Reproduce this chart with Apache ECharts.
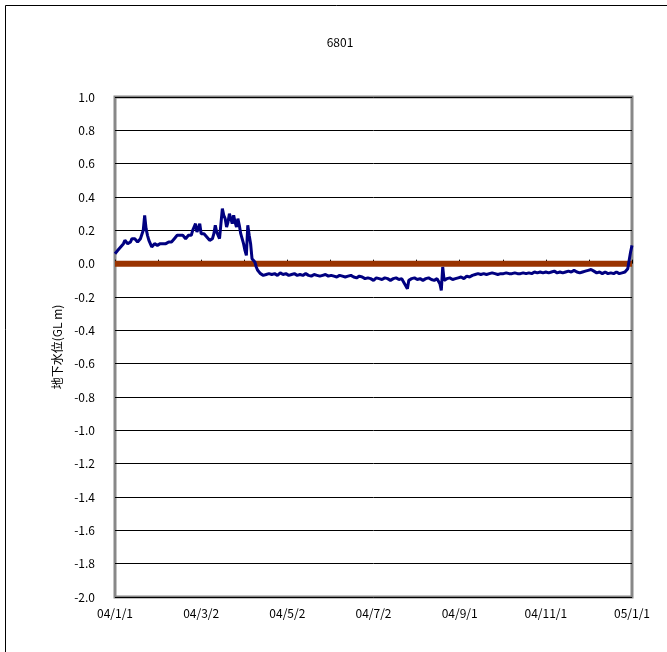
<!DOCTYPE html>
<html>
<head>
<meta charset="utf-8">
<script src="https://cdn.jsdelivr.net/npm/echarts@6/dist/echarts.min.js"></script>
<style>
html,body{margin:0;padding:0;background:#fff;}
#chart{width:667px;height:652px;}
</style>
</head>
<body>
<div id="chart"></div>
<script>
// Chart title and axis name
const chartTitle = '6801';
const yAxisName = '地下水位(GL m)';

// X tick labels (every 61 days from 2004-01-01)
const xTickLabels = ['04/1/1', '04/3/2', '04/5/2', '04/7/2', '04/9/1', '04/11/1', '05/1/1'];

// Day offsets from 2004-01-01
const days = [
  0,1,2,3,4,5,6,7,8,9,10,11,12,13,14,15,16,17,18,19,20,21,22,23,24,25,26,27,28,29,
  30,31,32,33,34,35,36,37,38,39,40,41,42,43,44,45,46,47,48,49,50,51,52,53,54,55,56,57,58,59,
  60,61,62,63,64,65,66,67,68,69,70,71,72,73,74,75,76,77,78,79,80,81,82,83,84,85,86,87,88,89,
  90,91,92,93,94,95,96,97,98,99,100,101,102,103,104,105,
  107,109,111,113,115,117,119,121,123,125,127,129,131,133,135,137,139,141,143,145,147,149,
  151,153,155,157,159,161,163,165,167,169,171,173,175,177,179,181,183,185,187,189,191,193,
  195,197,199,201,203,205,207,208,210,212,214,216,218,220,222,224,226,228,230,231,232,233,
  235,237,239,241,243,245,247,249,251,253,255,257,259,261,263,265,267,269,271,273,275,277,
  279,281,283,285,287,289,291,293,295,297,299,301,303,305,307,309,311,313,315,317,319,321,
  323,325,327,329,331,333,335,337,339,341,343,345,347,349,351,353,355,357,359,361,362,363,
  364,365,366
];

// Groundwater level (GL m)
const levels = [
  0.06,0.07,0.08,0.09,0.10,0.11,0.12,0.14,0.13,0.12,0.13,0.13,0.15,0.16,0.15,0.14,0.13,0.14,0.15,0.15,
  0.20,0.29,0.21,0.17,0.14,0.12,0.10,0.11,0.12,0.11,
  0.11,0.115,0.12,0.11,0.12,0.11,0.12,0.12,0.13,0.12,0.13,0.14,0.15,0.16,0.17,0.18,0.17,0.16,0.17,0.16,
  0.15,0.16,0.17,0.18,0.17,0.20,0.22,0.24,0.19,0.21,
  0.24,0.18,0.19,0.18,0.17,0.16,0.15,0.14,0.13,0.15,0.18,0.23,0.19,0.17,0.15,0.24,0.33,0.29,0.27,0.22,
  0.25,0.30,0.27,0.24,0.29,0.25,0.22,0.27,0.23,0.18,
  0.15,0.12,0.08,0.05,0.23,0.17,0.12,0.03,0.02,0.01,-0.02,-0.04,-0.05,-0.06,-0.065,-0.07,
  -0.065,-0.06,-0.065,-0.06,-0.07,-0.055,-0.065,-0.06,-0.07,-0.065,-0.06,-0.07,-0.065,-0.07,-0.06,-0.07,
  -0.075,-0.065,-0.07,-0.075,-0.07,-0.065,
  -0.075,-0.07,-0.075,-0.08,-0.07,-0.075,-0.08,-0.075,-0.07,-0.08,-0.085,-0.075,-0.08,-0.09,-0.085,-0.09,
  -0.10,-0.085,-0.09,-0.095,-0.085,-0.09,
  -0.10,-0.09,-0.085,-0.095,-0.09,-0.12,-0.15,-0.10,-0.09,-0.085,-0.095,-0.09,-0.10,-0.09,-0.085,-0.095,
  -0.10,-0.09,-0.12,-0.16,-0.02,-0.10,
  -0.09,-0.085,-0.095,-0.09,-0.085,-0.08,-0.09,-0.075,-0.08,-0.07,-0.065,-0.06,-0.065,-0.06,-0.065,-0.06,
  -0.055,-0.06,-0.065,-0.06,-0.06,-0.055,
  -0.06,-0.06,-0.055,-0.06,-0.06,-0.055,-0.06,-0.055,-0.06,-0.05,-0.055,-0.05,-0.055,-0.05,-0.055,-0.05,
  -0.045,-0.055,-0.05,-0.055,-0.05,-0.045,
  -0.05,-0.04,-0.05,-0.055,-0.05,-0.045,-0.04,-0.035,-0.045,-0.055,-0.05,-0.06,-0.05,-0.06,-0.055,-0.06,
  -0.05,-0.06,-0.055,-0.05,-0.05,-0.03,
  0.02,0.07,0.11
];

// Reference level line (GL 0 m) spanning the period
const referenceDays = [0, 366];
const referenceLevels = [0, 0];

const levelData = days.map((d, i) => [d, levels[i]]);
const refData = referenceDays.map((d, i) => [d, referenceLevels[i]]);

const font = '"Noto Sans CJK JP", "DejaVu Sans", sans-serif';

const chart = echarts.init(document.getElementById('chart'), null, {renderer: 'canvas'});
chart.setOption({
  animation: false,
  backgroundColor: '#fff',
  title: {
    text: chartTitle,
    left: 335,
    top: 31,
    textAlign: 'center',
    textStyle: {fontSize: 12, fontWeight: 'normal', color: '#000', fontFamily: font}
  },
  graphic: [{
    type: 'rect',
    shape: {x: 5.5, y: 5.5, width: 700, height: 700},
    style: {fill: 'none', stroke: '#000', lineWidth: 1},
    silent: true,
    z: 0
  }],
  grid: {
    left: 115, top: 97, right: 35, bottom: 55,
    show: true,
    borderColor: '#888',
    borderWidth: 3,
    backgroundColor: '#fff'
  },
  xAxis: {
    type: 'value',
    min: 0,
    max: 366,
    interval: 61,
    axisLine: {show: false},
    axisTick: {show: true, inside: true, length: 4, lineStyle: {color: '#000', width: 1}},
    minorTick: {show: true, splitNumber: 2, length: 4, lineStyle: {color: '#000', width: 1}},
    splitLine: {show: false},
    axisLabel: {
      margin: 10,
      fontSize: 12,
      color: '#000',
      fontFamily: font,
      formatter: v => xTickLabels[Math.round(v / 61)] || ''
    }
  },
  yAxis: {
    type: 'value',
    min: -2.0,
    max: 1.0,
    interval: 0.2,
    name: yAxisName,
    nameLocation: 'middle',
    nameGap: 52,
    nameRotate: 90,
    nameTextStyle: {fontSize: 12, color: '#000', fontFamily: font},
    axisLine: {show: false},
    axisTick: {show: false},
    splitLine: {show: true, lineStyle: {color: '#000', width: 1}},
    axisLabel: {
      margin: 20,
      fontSize: 12,
      color: '#000',
      fontFamily: font,
      formatter: v => v.toFixed(1)
    }
  },
  series: [
    {
      name: 'reference',
      type: 'line',
      data: refData,
      symbol: 'none',
      lineStyle: {color: '#993300', width: 6},
      z: 2
    },
    {
      name: 'level',
      type: 'line',
      data: levelData,
      symbol: 'none',
      lineStyle: {color: '#000080', width: 3},
      z: 3
    }
  ]
});
</script>
</body>
</html>
